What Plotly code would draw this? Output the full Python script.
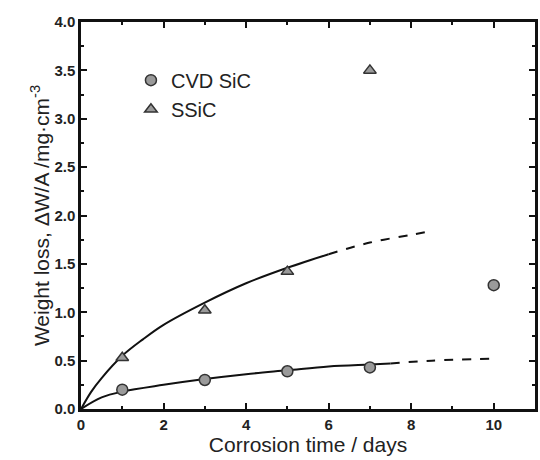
import plotly.graph_objects as go

cvd_t = [1, 3, 5, 7, 10]
cvd_w = [0.20, 0.30, 0.39, 0.43, 1.28]
ssic_t = [1, 3, 5, 7]
ssic_w = [0.53, 1.02, 1.42, 3.50]

# fitted curves
ssic_fit_t = [0, 0.25, 0.5, 1, 1.5, 2, 3, 4, 5, 6]
ssic_fit_w = [0, 0.18, 0.32, 0.55, 0.72, 0.87, 1.10, 1.30, 1.46, 1.60]
ssic_ext_t = [6, 7, 8, 8.5]
ssic_ext_w = [1.60, 1.72, 1.80, 1.84]
cvd_fit_t = [0, 0.5, 1, 2, 3, 4, 5, 6, 7, 7.5]
cvd_fit_w = [0, 0.12, 0.18, 0.25, 0.31, 0.36, 0.40, 0.44, 0.46, 0.47]
cvd_ext_t = [7.5, 8.5, 10]
cvd_ext_w = [0.47, 0.50, 0.52]

FONT = "Liberation Sans, Arial"
fig = go.Figure()
fig.add_trace(go.Scatter(x=ssic_fit_t, y=ssic_fit_w, mode="lines", line=dict(color="#111", width=2, shape="spline"), showlegend=False))
fig.add_trace(go.Scatter(x=ssic_ext_t, y=ssic_ext_w, mode="lines", line=dict(color="#111", width=2, dash="dash", shape="spline"), showlegend=False))
fig.add_trace(go.Scatter(x=cvd_fit_t, y=cvd_fit_w, mode="lines", line=dict(color="#111", width=2, shape="spline"), showlegend=False))
fig.add_trace(go.Scatter(x=cvd_ext_t, y=cvd_ext_w, mode="lines", line=dict(color="#111", width=2, dash="dash", shape="spline"), showlegend=False))

fig.add_trace(go.Scatter(x=cvd_t, y=cvd_w, mode="markers", name="CVD SiC",
                         marker=dict(symbol="circle", size=11, color="#9a9a9a", line=dict(color="#333", width=1.5))))
fig.add_trace(go.Scatter(x=ssic_t, y=ssic_w, mode="markers", name="SSiC",
                         marker=dict(symbol="triangle-up", size=11, color="#9a9a9a", line=dict(color="#333", width=1.5))))

axis_common = dict(showline=True, linewidth=2.5, linecolor="#111", mirror="allticks",
                   ticks="inside", ticklen=6, tickwidth=2, tickcolor="#111",
                   showgrid=False, zeroline=False,
                   tickfont=dict(family=FONT, size=15, color="#222", weight="bold"))
fig.update_xaxes(range=[0, 11], tickvals=[0, 2, 4, 6, 8, 10],
                 minor=dict(tickvals=[1, 3, 5, 7, 9, 11], ticks="inside", ticklen=3, tickwidth=2, tickcolor="#111"),
                 title=dict(text="Corrosion time / days", font=dict(family=FONT, size=21, color="#222"), standoff=6),
                 **axis_common)
fig.update_yaxes(range=[0, 4], tickvals=[0, 0.5, 1, 1.5, 2, 2.5, 3, 3.5, 4], tickformat=".1f",
                 minor=dict(tickvals=[0.25, 0.75, 1.25, 1.75, 2.25, 2.75, 3.25, 3.75], ticks="inside", ticklen=3, tickwidth=2, tickcolor="#111"),
                 title=dict(text="Weight loss, ΔW/A /mg·cm<sup>-3</sup>", font=dict(family=FONT, size=21, color="#222"), standoff=0),
                 **axis_common)
fig.update_layout(width=540, height=460, margin=dict(l=81, r=2, t=22, b=51),
                  plot_bgcolor="white", paper_bgcolor="white",
                  legend=dict(x=0.11, y=0.9, xanchor="left", yanchor="top", bgcolor="rgba(0,0,0,0)",
                              font=dict(family=FONT, size=20, color="#222"), tracegroupgap=0))
fig.write_html("out.html")
